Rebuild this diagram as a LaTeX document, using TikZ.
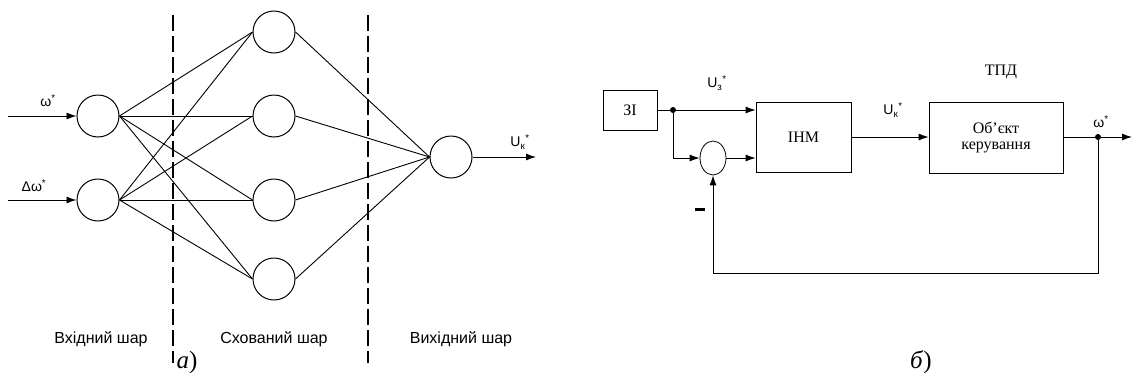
\documentclass[tikz,border=0pt]{standalone}
\usepackage{fontspec}
\setmainfont{Liberation Serif}
\newfontfamily\lblfont{Liberation Sans}
\usetikzlibrary{arrows.meta,shapes.geometric}

% signal name with a subscript followed by a starred superscript
\newcommand{\sigsym}[2]{#1\textsubscript{#2}\textsuperscript{*}}

\tikzset{
  neuron/.style={circle, draw, minimum size=42pt, inner sep=0pt, line width=1pt},
  link/.style={line width=0.9pt},
  arr/.style={line width=0.9pt, -{Latex[length=10pt,width=7pt]}},
  layerbound/.style={line width=2pt, dash pattern=on 16pt off 5pt},
  block/.style={draw, rectangle, line width=0.8pt, inner sep=0pt},
  sumnode/.style={ellipse, draw, line width=0.8pt, minimum width=26pt, minimum height=34pt, inner sep=0pt},
  junction/.style={circle, fill, minimum size=6pt, inner sep=0pt},
  sig/.style={font=\lblfont\fontsize{14}{16}\selectfont, inner sep=0pt},
  layername/.style={font=\lblfont\fontsize{16}{18}\selectfont, inner sep=0pt},
  blocktext/.style={font=\fontsize{16}{18}\selectfont, align=center},
  caption/.style={font=\fontsize{25}{28}\selectfont, inner sep=0pt}
}

\begin{document}
\begin{tikzpicture}[x=1pt, y=-1pt]
\useasboundingbox (0,0) rectangle (1133,378);

% ---------- a) neural network ----------
\node[neuron] (i1) at (98,116) {};
\node[neuron] (i2) at (98,200) {};
\node[neuron] (h1) at (274,32) {};
\node[neuron] (h2) at (274,116) {};
\node[neuron] (h3) at (274,200) {};
\node[neuron] (h4) at (274,279) {};
\node[neuron] (o1) at (451,157) {};

\foreach \i in {i1,i2}
  \foreach \h in {h1,h2,h3,h4}
    \draw[link] (\i.east) -- (\h.west);
\foreach \h in {h1,h2,h3,h4}
  \draw[link] (\h.east) -- (o1.west);

\coordinate (in1) at (8,116);
\coordinate (in2) at (8,200);
\coordinate (outn) at (536,157);
\draw[arr] (in1) -- (i1.west);
\draw[arr] (in2) -- (i2.west);
\draw[arr] (o1.east) -- (outn);

\node[sig] (lw) at (48,101) {ω\textsuperscript{*}};
\node[sig] (ldw) at (34,186) {Δω\textsuperscript{*}};
\node[sig] (luk) at (520,142) {\sigsym{U}{к}};

% layer boundaries
\coordinate (d1t) at (173,15);
\coordinate (d1b) at (173,363);
\coordinate (d2t) at (368,15);
\coordinate (d2b) at (368,363);
\draw[layerbound] (d1t) -- (d1b);
\draw[layerbound] (d2t) -- (d2b);

\node[layername] (ln1) at (101,339) {Вхідний шар};
\node[layername] (ln2) at (274,339) {Схований шар};
\node[layername] (ln3) at (461,339) {Вихідний шар};

\node[caption] (capa) at (187,362) {\textit{а})};

% ---------- b) control loop ----------
\node[block, minimum width=54pt, minimum height=40pt] (zi) at (630,110) {};
\node[blocktext] (zit) at (zi.center) {ЗІ};
\node[junction] (j1) at (673,110) {};
\node[sumnode] (sum) at (713,158) {};
\node[block, minimum width=95pt, minimum height=70pt] (inm) at (803.5,137) {};
\node[blocktext] (inmt) at (inm.center) {ІНМ};
\node[block, minimum width=134pt, minimum height=71pt] (obj) at (996,137.5) {};
\node[blocktext] (objt) at (obj.center) {Об'єкт\\[-2pt]керування};
\node[junction] (j2) at (1098,137) {};
\coordinate (yout) at (1132,137);
\coordinate (fb) at (1098,273);

\draw[link] (zi.east) -- (j1);
\draw[arr] (j1) -- (inm.west |- j1);
\draw[arr] (j1) |- (sum.west);
\draw[arr] (sum.east) -- (inm.west |- sum.east);
\draw[arr] (inm.east) -- (obj.west |- inm.east);
\draw[link] (obj.east |- j2) -- (j2);
\draw[arr] (j2) -- (yout);
\draw[arr] (j2) -- (fb) -| (sum.south);

\node[sig] (luz) at (717,83) {\sigsym{U}{з}};
\node[sig] (luk2) at (893,110) {\sigsym{U}{к}};
\node[blocktext, inner sep=0pt] (ltpd) at (1001,72) {ТПД};
\node[sig] (lwo) at (1101,122) {ω\textsuperscript{*}};
\node[inner sep=0pt] (minus) at (700,209) {\rule{10pt}{3pt}};

\node[caption] (capb) at (921,362) {\textit{б})};
\end{tikzpicture}
\end{document}
